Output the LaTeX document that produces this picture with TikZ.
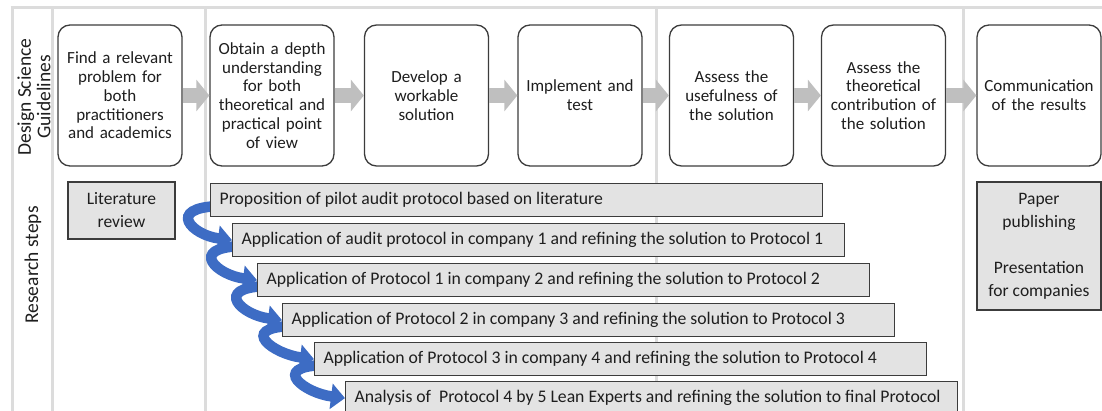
\documentclass[tikz,border=0pt]{standalone}
\usepackage{fontspec}
\setmainfont{Carlito}
\usetikzlibrary{arrows.meta}
\pgfdeclarelayer{back}
\pgfdeclarelayer{mid}
\pgfsetlayers{back,mid,main}
\definecolor{gridc}{HTML}{DCDCDC}
\definecolor{boxline}{HTML}{3C3C3C}
\definecolor{stepfill}{HTML}{E3E3E3}
\definecolor{blockarrow}{HTML}{BFBFBF}
\definecolor{ribbon}{HTML}{3D6CC4}
\definecolor{txt}{HTML}{1E1E1E}
\newcommand{\stx}[1]{\makebox[594pt][l]{#1}}
\begin{document}
\begin{tikzpicture}[x=1pt,y=-1pt,
  gridline/.style={draw=gridc, line width=3pt},
  guide/.style={draw=boxline, line width=1.3pt, rounded corners=12pt, fill=white,
    minimum width=124pt, minimum height=141pt, text width=120pt, align=center,
    inner sep=0pt, font=\fontsize{17}{18.8}\selectfont, text=txt},
  stepbox/.style={draw=boxline, line width=1.2pt, fill=stepfill, minimum height=33pt,
    inner xsep=9pt, inner ysep=0pt, anchor=north west,
    font=\fontsize{17.7}{21}\selectfont, text=txt},
  sidebox/.style={draw=boxline, line width=1.2pt, fill=stepfill, inner sep=0pt,
    align=center, font=\fontsize{17.5}{23}\selectfont, text=txt},
  lanelabel/.style={rotate=90, align=center, inner sep=0pt,
    font=\fontsize{19.5}{19.5}\selectfont, text=txt},
  blockarr/.style={draw=blockarrow, line width=15pt, -{Triangle[width=31pt,length=13pt]}},
  ribbonarrow/.style={draw=ribbon, line width=10.5pt, -{Triangle[width=25pt,length=14pt]}}
]
\clip (0,0) rectangle (1102,411);

% grid
\begin{pgfonlayer}{back}
\draw[gridline] (10.5,8) -- (1102,8);
\draw[gridline] (12,8) -- (12,411);
\draw[gridline] (52,8) -- (52,411);
\draw[gridline] (205,8) -- (205,411);
\draw[gridline] (656,8) -- (656,411);
\draw[gridline] (963,8) -- (963,411);
\end{pgfonlayer}

% lane labels
\node[lanelabel] (lab1) at (34,97) {Design Science\\Guidelines};
\node[lanelabel] (lab2) at (33,265) {Research steps};

% design science guidelines
\node[guide] (g1) at (120,95.5) {Find a relevant\\problem for\\both\\practitioners\\and academics};
\node[guide] (g2) at (272,95.5) {Obtain a depth\\understanding\\for both\\theoretical and\\practical point\\of view};
\node[guide] (g3) at (426.5,95.5) {Develop a\\workable\\solution};
\node[guide] (g4) at (580,95.5) {Implement and\\test};
\node[guide] (g5) at (731.5,95.5) {Assess the\\usefulness of\\the solution};
\node[guide] (g6) at (883.5,95.5) {Assess the\\theoretical\\contribution of\\the solution};
\node[guide] (g7) at (1039,95.5) {Communication\\of the results};

\draw[blockarr] (g1.east) -- (g2.west);
\draw[blockarr] (g2.east) -- (g3.west);
\draw[blockarr] (g3.east) -- (g4.west);
\draw[blockarr] (g4.east) -- (g5.west);
\draw[blockarr] (g5.east) -- (g6.west);
\draw[blockarr] (g6.east) -- (g7.west);

% research steps
\node[sidebox, minimum width=107pt, minimum height=57pt] (lit) at (121.5,210.5) {Literature\\review};
\node[sidebox, minimum width=124pt, minimum height=128pt] (pub) at (1039,246) {Paper\\publishing\\[23pt]Presentation\\for companies};

\node[stepbox] (sA) at (210,183) {\stx{Proposition of pilot audit protocol based on literature}};
\node[stepbox] (sB) at (232,223) {\stx{Application of audit protocol in company 1 and refining the solution to Protocol 1}};
\node[stepbox] (sC) at (257,263) {\stx{Application of Protocol 1 in company 2 and refining the solution to Protocol 2}};
\node[stepbox] (sD) at (282,303) {\stx{Application of Protocol 2 in company 3 and refining the solution to Protocol 3}};
\node[stepbox] (sE) at (314,342) {\stx{Application of Protocol 3 in company 4 and refining the solution to Protocol 4}};
\node[stepbox] (sF) at (345,381) {\stx{Analysis of~ Protocol 4 by 5 Lean Experts and refining the solution to final Protocol}};

\begin{pgfonlayer}{mid}
\draw[ribbonarrow] ([xshift=8pt,yshift=-6pt]sA.west) .. controls +(-52,2) and +(-40,-5) .. (sB.west);
\draw[ribbonarrow] ([xshift=8pt,yshift=-6pt]sB.west) .. controls +(-52,2) and +(-40,-5) .. (sC.west);
\draw[ribbonarrow] ([xshift=8pt,yshift=-6pt]sC.west) .. controls +(-52,2) and +(-40,-5) .. (sD.west);
\draw[ribbonarrow] ([xshift=8pt,yshift=-6pt]sD.west) .. controls +(-52,2) and +(-40,-5) .. (sE.west);
\draw[ribbonarrow] ([xshift=8pt,yshift=-6pt]sE.west) .. controls +(-52,2) and +(-40,-5) .. (sF.west);
\end{pgfonlayer}
\end{tikzpicture}
\end{document}
